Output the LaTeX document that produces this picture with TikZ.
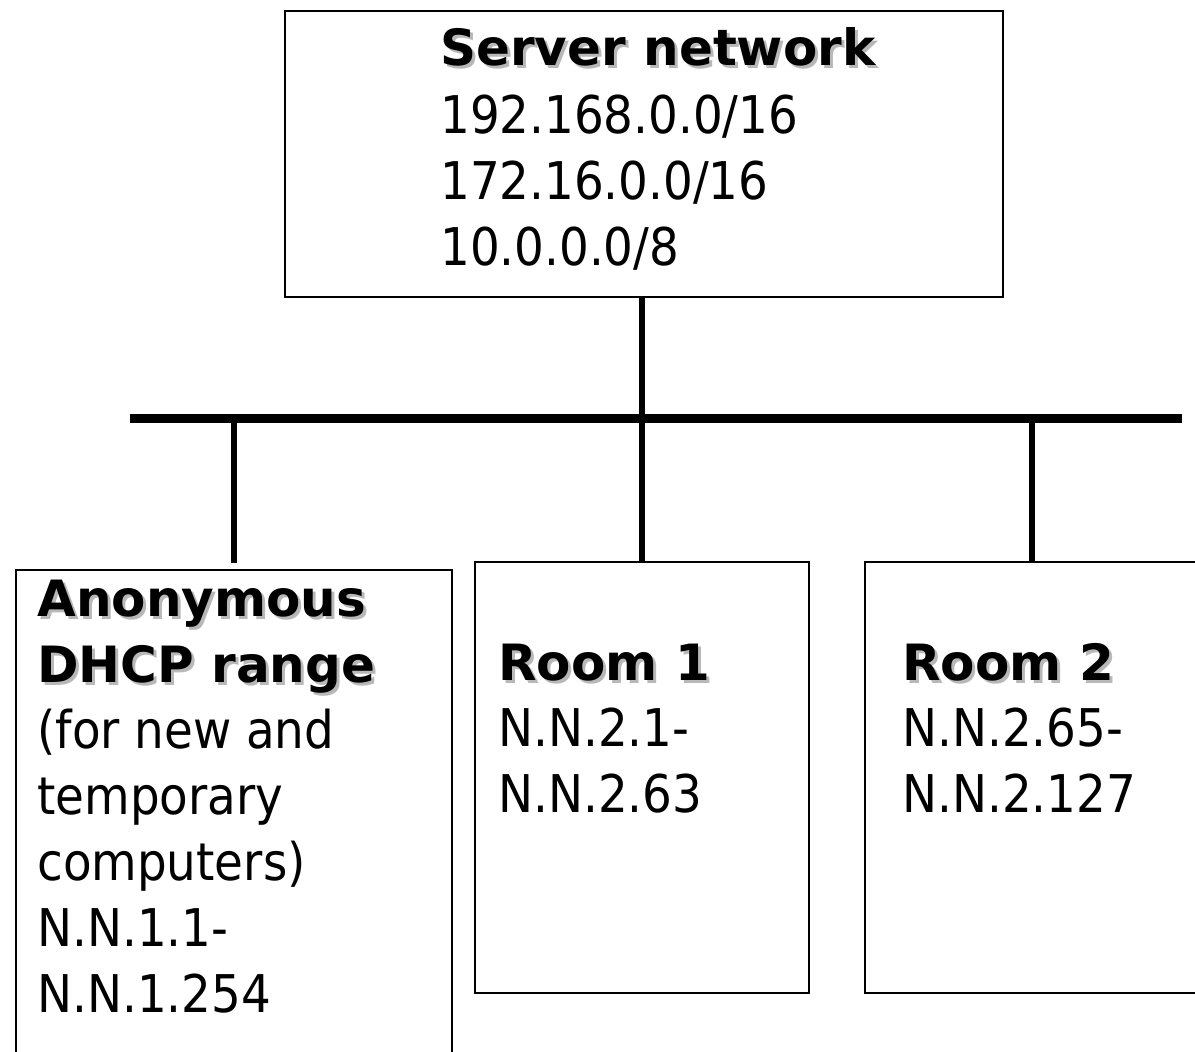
\documentclass[tikz,border=0pt]{standalone}
\usepackage{fontspec}
\setmainfont{DejaVu Sans Condensed}
\newfontfamily\headfont{DejaVu Sans}
\newcommand\shadowtitle[1]{\makebox[0pt][l]{\hspace{3pt}\raisebox{-3pt}{\color{black!28}#1}}#1}

\begin{document}
\begin{tikzpicture}[x=1pt,
					y=-1pt,
					thick,
					box/.style={draw,line width=1.6pt,inner sep=0pt,anchor=north west},
					head/.style={anchor=base west,inner sep=0pt,align=left,
						font=\headfont\bfseries\fontsize{50}{66}\selectfont},
					body/.style={anchor=base west,inner sep=0pt,align=left,
						font=\fontsize{52}{66}\selectfont},
					link/.style={line width=6pt},
					bus/.style={line width=9pt}]

  \clip (0,0) rectangle (1195,1052);

  \node[box,minimum width=718pt,minimum height=286pt] (server) at (284,10) {};
  \node[box,minimum width=436pt,minimum height=520pt] (anon) at (15,569) {};
  \node[box,minimum width=334pt,minimum height=431pt] (room1) at (474,561) {};
  \node[box,minimum width=334pt,minimum height=431pt] (room2) at (864,561) {};

  % base = last line of each node
  \node[head] (servertitle) at (440,65) {\shadowtitle{Server network}};
  \node[body] (serverips) at (440,265) {192.168.0.0/16\\172.16.0.0/16\\10.0.0.0/8};

  \node[head] (anontitle) at (37,682) {\shadowtitle{Anonymous}\\\shadowtitle{DHCP range}};
  \node[body] (anonips) at (37,1012) {(for new and\\temporary\\computers)\\N.N.1.1-\\N.N.1.254};

  \node[head] (room1title) at (498,680) {\shadowtitle{Room 1}};
  \node[body] (room1ips) at (498,812) {N.N.2.1-\\N.N.2.63};

  \node[head] (room2title) at (902,680) {\shadowtitle{Room 2}};
  \node[body] (room2ips) at (902,812) {N.N.2.65-\\N.N.2.127};

  % backbone
  \coordinate (busL) at (130,418);
  \coordinate (busR) at (1182,418);
  \draw[bus] (busL) -- (busR);

  \draw[link] (room1.north) -- (room1.north |- server.south);
  \draw[link,shorten >=6pt] (busL -| anon.north) -- (anon.north);
  \draw[link] (busL -| room2.north) -- (room2.north);
\end{tikzpicture}
\end{document}
